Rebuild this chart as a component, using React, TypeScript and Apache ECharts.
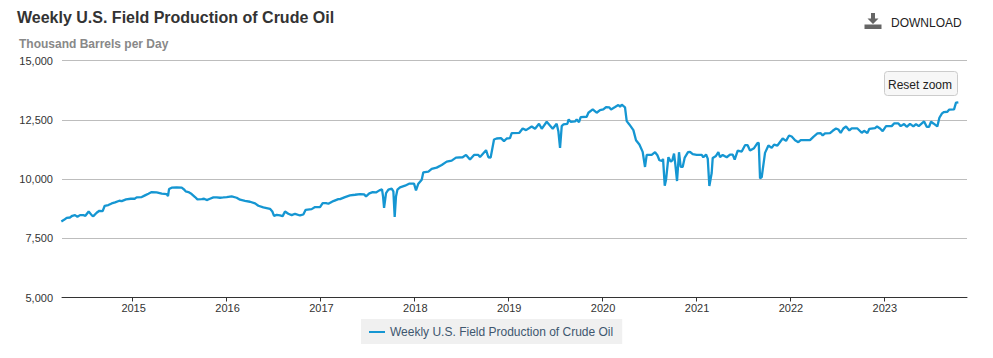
import React, { useEffect, useRef } from "react";
import * as echarts from "echarts";

const seriesName = "Weekly U.S. Field Production of Crude Oil";
const unitLabel = "Thousand Barrels per Day";
const yearTicks = [2015, 2016, 2017, 2018, 2019, 2020, 2021, 2022, 2023];
const axisStart = 2014.248;
const axisEnd = 2023.886;

const years = [
  2014.241, 2014.27, 2014.298, 2014.333, 2014.358, 2014.387, 2014.412, 2014.44, 2014.476, 2014.497, 2014.532, 2014.564, 2014.582, 2014.617, 2014.646, 2014.681, 2014.703, 2014.742, 2014.777, 2014.813, 2014.859, 2014.884, 2014.93, 2014.98,
  2015.022, 2015.043, 2015.097, 2015.132, 2015.168, 2015.203, 2015.256, 2015.31, 2015.363, 2015.377, 2015.388, 2015.416, 2015.469, 2015.523, 2015.551, 2015.565, 2015.594, 2015.629, 2015.665, 2015.69, 2015.736, 2015.761, 2015.789, 2015.824, 2015.86, 2015.895, 2015.931, 2015.966,
  2016.002, 2016.055, 2016.108, 2016.144, 2016.197, 2016.25, 2016.304, 2016.339, 2016.392, 2016.463, 2016.488, 2016.506, 2016.534, 2016.57, 2016.598, 2016.623, 2016.658, 2016.694, 2016.73, 2016.783, 2016.818, 2016.843, 2016.907, 2016.943, 2016.996,
  2017.024, 2017.06, 2017.085, 2017.138, 2017.191, 2017.209, 2017.262, 2017.315, 2017.369, 2017.422, 2017.465, 2017.486, 2017.521, 2017.557, 2017.592, 2017.628, 2017.656, 2017.667, 2017.678, 2017.699, 2017.724, 2017.759, 2017.777, 2017.791, 2017.805, 2017.82, 2017.848, 2017.901, 2017.944, 2017.997,
  2018.018, 2018.043, 2018.079, 2018.096, 2018.15, 2018.185, 2018.238, 2018.292, 2018.345, 2018.398, 2018.444, 2018.515, 2018.551, 2018.593, 2018.636, 2018.682, 2018.7, 2018.764, 2018.789, 2018.813, 2018.849, 2018.877, 2018.923, 2018.955, 2018.984,
  2019.019, 2019.037, 2019.119, 2019.154, 2019.19, 2019.25, 2019.286, 2019.328, 2019.357, 2019.41, 2019.474, 2019.516, 2019.534, 2019.552, 2019.57, 2019.587, 2019.63, 2019.644, 2019.665, 2019.712, 2019.729, 2019.754, 2019.772, 2019.836, 2019.854, 2019.9, 2019.942, 2019.978,
  2020.013, 2020.042, 2020.077, 2020.095, 2020.138, 2020.173, 2020.191, 2020.209, 2020.244, 2020.262, 2020.29, 2020.333, 2020.361, 2020.397, 2020.432, 2020.457, 2020.475, 2020.528, 2020.564, 2020.589, 2020.61, 2020.638, 2020.649, 2020.667, 2020.681, 2020.706, 2020.731, 2020.748, 2020.766, 2020.78, 2020.798, 2020.819, 2020.837, 2020.858, 2020.88, 2020.915, 2020.936, 2020.965,
  2021.007, 2021.061, 2021.078, 2021.107, 2021.125, 2021.142, 2021.167, 2021.178, 2021.213, 2021.238, 2021.256, 2021.284, 2021.327, 2021.362, 2021.391, 2021.412, 2021.444, 2021.487, 2021.522, 2021.55, 2021.575, 2021.618, 2021.654, 2021.668, 2021.682, 2021.7, 2021.735, 2021.771, 2021.806, 2021.831, 2021.867, 2021.923, 2021.959, 2021.991,
  2022.019, 2022.055, 2022.09, 2022.115, 2022.214, 2022.25, 2022.293, 2022.328, 2022.349, 2022.374, 2022.427, 2022.456, 2022.491, 2022.516, 2022.541, 2022.569, 2022.598, 2022.633, 2022.658, 2022.719, 2022.765, 2022.79, 2022.825, 2022.846, 2022.907, 2022.928, 2022.96, 2022.988,
  2023.024, 2023.084, 2023.109, 2023.155, 2023.18, 2023.216, 2023.244, 2023.279, 2023.315, 2023.343, 2023.372, 2023.429, 2023.457, 2023.482, 2023.503, 2023.528, 2023.57, 2023.592, 2023.62, 2023.641, 2023.677, 2023.695, 2023.748, 2023.769, 2023.794,
];

const production = [
  8207, 8277, 8362, 8376, 8447, 8475, 8404, 8475, 8475, 8447, 8630, 8475, 8433, 8574, 8659, 8644, 8870, 8899, 8969, 9012, 9082, 9068, 9139, 9167,
  9167, 9223, 9238, 9308, 9379, 9449, 9435, 9379, 9365, 9280, 9576, 9633, 9647, 9633, 9548, 9478, 9449, 9365, 9238, 9139, 9153, 9167, 9110, 9167, 9223, 9223, 9209, 9223,
  9238, 9266, 9209, 9125, 9082, 9040, 8969, 8870, 8800, 8743, 8630, 8447, 8489, 8461, 8433, 8630, 8532, 8475, 8532, 8461, 8503, 8701, 8729, 8814, 8814,
  8983, 8983, 8955, 9068, 9153, 9153, 9238, 9308, 9336, 9365, 9350, 9266, 9393, 9449, 9435, 9520, 9562, 9266, 8786, 9407, 9548, 9591, 9478, 8404, 9266, 9548, 9647, 9718, 9802, 9802,
  9520, 9802, 9972, 10282, 10311, 10424, 10480, 10593, 10734, 10777, 10904, 10918, 11017, 10819, 11017, 11017, 10932, 11214, 10918, 10904, 11666, 11709, 11723, 11596, 11709,
  11723, 11934, 11949, 12132, 12061, 12217, 12118, 12330, 12118, 12415, 12118, 12330, 12019, 11313, 12231, 12302, 12330, 12513, 12415, 12429, 12513, 12400, 12612, 12626, 12796, 12937, 12796, 12909,
  12937, 13036, 13022, 12937, 13036, 13121, 13051, 13135, 13022, 12443, 12302, 12061, 11638, 11454, 11144, 10508, 11017, 11017, 11130, 11003, 10791, 10762, 10847, 9718, 9972, 10918, 10734, 10791, 11073, 10607, 9915, 11130, 10508, 10508, 10904, 11130, 11144, 11045,
  11017, 11017, 10918, 11031, 10861, 9703, 10254, 10890, 10974, 11130, 10918, 11017, 10918, 11031, 11031, 10819, 11200, 11158, 11426, 11426, 11200, 11299, 11511, 11525, 10028, 10085, 11102, 11412, 11313, 11454, 11412, 11709, 11610, 11836,
  11794, 11638, 11554, 11638, 11638, 11780, 11921, 11935, 11836, 11921, 11935, 12034, 12132, 12090, 11949, 12132, 12217, 12048, 12132, 12132, 11949, 12034, 11935, 12118, 12147, 12217, 12132, 12019,
  12231, 12231, 12344, 12344, 12231, 12316, 12203, 12330, 12217, 12316, 12231, 12429, 12203, 12203, 12415, 12344, 12217, 12584, 12767, 12824, 12838, 12923, 12937, 13220, 13234,
];

const font = "'Liberation Sans', Arial, sans-serif";
const lineColor = "#1596d2";

echarts.graphic.registerShape(
  "downloadIcon",
  echarts.graphic.extendPath("M6.5 0H10.5V5.5H14L8.5 11L3 5.5H6.5ZM0 11.5H17V16H0Z", {})
);

export default function App() {
  const ref = useRef<HTMLDivElement>(null);

  useEffect(() => {
    const chart = echarts.init(ref.current!, undefined, { renderer: "svg" });
    chart.setOption({
      animation: false,
      backgroundColor: "#ffffff",
      textStyle: { fontFamily: font },
      grid: { left: 62, right: 26, top: 60.5, bottom: 60.5, containLabel: false },
      title: {
        text: seriesName,
        left: 17,
        top: 9,
        padding: 0,
        textStyle: { fontFamily: font, fontSize: 16, fontWeight: "bold", color: "#333333" },
      },
      legend: {
        show: true,
        left: 361,
        top: 319,
        padding: [7, 9, 6, 8],
        backgroundColor: "#f0f0f0",
        itemWidth: 16,
        itemHeight: 2,
        itemGap: 0,
        icon: "rect",
        textStyle: { fontFamily: font, fontSize: 12, color: "#3e576f" },
        data: [seriesName],
      },
      xAxis: {
        type: "value",
        min: axisStart,
        max: axisEnd,
        splitLine: { show: false },
        axisLine: { lineStyle: { color: "#333333", width: 1 } },
        axisTick: { show: true, length: 4, lineStyle: { color: "#333333" }, customValues: yearTicks },
        axisLabel: {
          color: "#333333",
          fontSize: 11,
          fontFamily: font,
          margin: 5,
          padding: [0, 0, 0, 2],
          customValues: yearTicks,
          formatter: (v: number) => String(Math.round(v)),
        },
      },
      yAxis: {
        type: "value",
        min: 5000,
        max: 15000,
        interval: 2500,
        axisLine: { show: false },
        axisTick: { show: false },
        splitLine: { lineStyle: { color: "#bdbdbd", width: 1 } },
        axisLabel: {
          color: "#333333",
          fontSize: 11,
          fontFamily: font,
          margin: 9,
          padding: [8, 0, 0, 0],
          formatter: (v: number) => v.toLocaleString("en-US"),
        },
      },
      series: [
        {
          name: seriesName,
          type: "line",
          symbol: "none",
          showSymbol: false,
          smooth: false,
          data: years.map((y, i) => [y, production[i]]),
          lineStyle: { color: lineColor, width: 2.3 },
          itemStyle: { color: lineColor },
        },
      ],
      graphic: [
        {
          type: "text",
          left: 19,
          top: 38,
          style: { text: unitLabel, fontFamily: font, fontSize: 12, fontWeight: "bold", fill: "#888888" },
        },
        {
          type: "downloadIcon",
          x: 864.5,
          y: 13,
          style: { fill: "#666666" },
        },
        {
          type: "text",
          left: 891,
          top: 17,
          style: { text: "DOWNLOAD", fontFamily: font, fontSize: 12, fill: "#222222" },
        },
        {
          type: "rect",
          shape: { x: 884.5, y: 71.5, width: 73, height: 24, r: 3 },
          style: { fill: "#f7f7f7", stroke: "#cccccc", lineWidth: 1 },
          z: 20,
        },
        {
          type: "text",
          left: 888,
          top: 79,
          z: 21,
          style: { text: "Reset zoom", fontFamily: font, fontSize: 12, fill: "#222222" },
        },
      ],
    });
    return () => chart.dispose();
  }, []);

  return <div ref={ref} style={{ position: "absolute", left: 0, top: 0, width: 993, height: 358 }} />;
}
